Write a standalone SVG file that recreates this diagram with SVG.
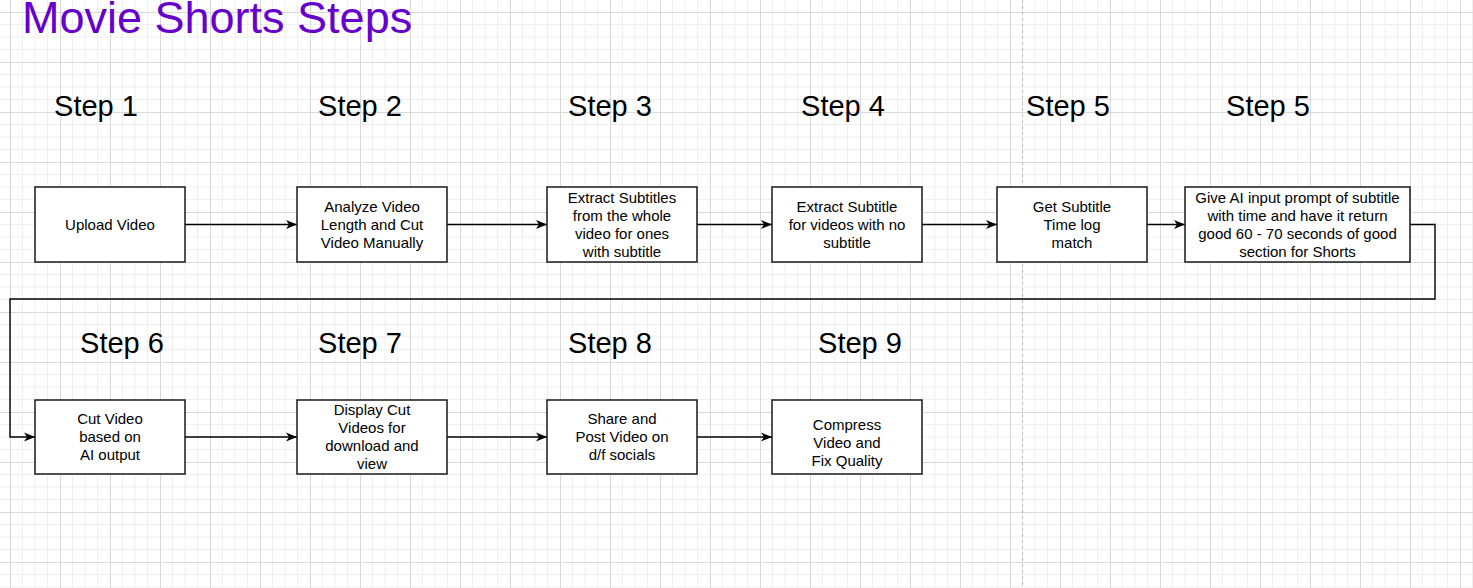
<svg xmlns="http://www.w3.org/2000/svg" width="1473" height="588" viewBox="0 0 1473 588">
<style>
.box{fill:#fff;stroke:#1a1a1a;stroke-width:1.5}
.t{font-family:"Liberation Sans",Arial,sans-serif;font-size:15px;fill:#000;text-anchor:middle}
.step{font-family:"Liberation Sans",Arial,sans-serif;font-size:29px;fill:#000;text-anchor:middle}
.edge{fill:none;stroke:#000;stroke-width:1.4}
</style>
<defs>
<pattern id="grid" patternUnits="userSpaceOnUse" x="10" y="12" width="50" height="50">
<path d="M12.5 0V50M25 0V50M37.5 0V50M0 12.5H50M0 25H50M0 37.5H50" stroke="#efefef" stroke-width="1" fill="none"/>
<path d="M0.5 0V50M0 0.5H50" stroke="#d9d9d9" stroke-width="1" fill="none"/>
</pattern>
<marker id="arr" markerUnits="userSpaceOnUse" markerWidth="12" markerHeight="10" refX="11" refY="5" orient="auto">
<path d="M0,0.5 L11,5 L0,9.5 L3,5 z" fill="#000"/>
</marker>
</defs>
<rect width="1473" height="588" fill="#fff"/>
<rect width="1473" height="588" fill="url(#grid)"/>
<line x1="1022.5" y1="0" x2="1022.5" y2="588" stroke="#bdbdbd" stroke-width="1" stroke-dasharray="3 3"/>
<text x="22" y="33" font-family="'Liberation Sans',Arial,sans-serif" font-size="45" fill="#6600cc">Movie Shorts Steps</text>
<g id="labels">
<text class="step" x="96" y="116">Step 1</text>
<text class="step" x="360" y="116">Step 2</text>
<text class="step" x="610" y="116">Step 3</text>
<text class="step" x="843" y="116">Step 4</text>
<text class="step" x="1068" y="116">Step 5</text>
<text class="step" x="1268" y="116">Step 5</text>
<text class="step" x="122" y="353">Step 6</text>
<text class="step" x="360" y="353">Step 7</text>
<text class="step" x="610" y="353">Step 8</text>
<text class="step" x="860" y="353">Step 9</text>
</g>
<g id="connectors">
<path class="edge" d="M185 224.5H297" marker-end="url(#arr)"/>
<path class="edge" d="M447 224.5H547" marker-end="url(#arr)"/>
<path class="edge" d="M697 224.5H772" marker-end="url(#arr)"/>
<path class="edge" d="M922 224.5H997" marker-end="url(#arr)"/>
<path class="edge" d="M1147 224.5H1185" marker-end="url(#arr)"/>
<path class="edge" d="M1410 224.5H1435V299H10V437H35" marker-end="url(#arr)"/>
<path class="edge" d="M185 437H297" marker-end="url(#arr)"/>
<path class="edge" d="M447 437H547" marker-end="url(#arr)"/>
<path class="edge" d="M697 437H772" marker-end="url(#arr)"/>
</g>
<g id="n1"><rect class="box" x="35" y="187" width="150" height="75"/><text class="t" x="110" y="230">Upload Video</text></g>
<g id="n2"><rect class="box" x="297" y="187" width="150" height="75"/><text class="t" x="372" y="212">Analyze Video</text><text class="t" x="372" y="230">Length and Cut</text><text class="t" x="372" y="248">Video Manually</text></g>
<g id="n3"><rect class="box" x="547" y="187" width="150" height="75"/><text class="t" x="622" y="203">Extract Subtitles</text><text class="t" x="622" y="221">from the whole</text><text class="t" x="622" y="239">video for ones</text><text class="t" x="622" y="257">with subtitle</text></g>
<g id="n4"><rect class="box" x="772" y="187" width="150" height="75"/><text class="t" x="847" y="212">Extract Subtitle</text><text class="t" x="847" y="230">for videos with no</text><text class="t" x="847" y="248">subtitle</text></g>
<g id="n5"><rect class="box" x="997" y="187" width="150" height="75"/><text class="t" x="1072" y="212">Get Subtitle</text><text class="t" x="1072" y="230">Time log</text><text class="t" x="1072" y="248">match</text></g>
<g id="n6"><rect class="box" x="1185" y="187" width="225" height="75"/><text class="t" x="1297.5" y="203">Give AI input prompt of subtitle</text><text class="t" x="1297.5" y="221">with time and have it return</text><text class="t" x="1297.5" y="239">good 60 - 70 seconds of good</text><text class="t" x="1297.5" y="257">section for Shorts</text></g>
<g id="n7"><rect class="box" x="35" y="400" width="150" height="74"/><text class="t" x="110" y="424">Cut Video</text><text class="t" x="110" y="442">based on</text><text class="t" x="110" y="460">AI output</text></g>
<g id="n8"><rect class="box" x="297" y="400" width="150" height="74"/><text class="t" x="372" y="415">Display Cut</text><text class="t" x="372" y="433">Videos for</text><text class="t" x="372" y="451">download and</text><text class="t" x="372" y="469">view</text></g>
<g id="n9"><rect class="box" x="547" y="400" width="150" height="74"/><text class="t" x="622" y="424">Share and</text><text class="t" x="622" y="442">Post Video on</text><text class="t" x="622" y="460">d/f socials</text></g>
<g id="n10"><rect class="box" x="772" y="400" width="150" height="74"/><text class="t" x="847" y="430">Compress</text><text class="t" x="847" y="448">Video and</text><text class="t" x="847" y="466">Fix Quality</text></g>
</svg>
